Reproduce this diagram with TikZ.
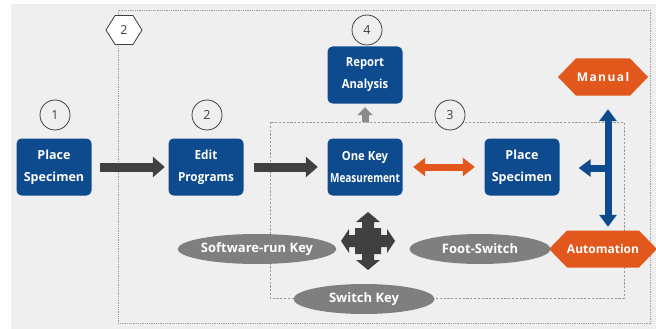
\documentclass[tikz,border=0pt]{standalone}
\usepackage{fontspec}
\setmainfont{Open Sans}
\usetikzlibrary{shapes.geometric,shapes.symbols,arrows.meta}
\definecolor{bg}{HTML}{EFEFEF}
\definecolor{nblue}{HTML}{0D4A8E}
\definecolor{norange}{HTML}{E2581C}
\definecolor{ngray}{HTML}{7F7F7F}
\definecolor{ndark}{HTML}{404040}
\definecolor{nlight}{HTML}{8A8A8A}
\definecolor{nline}{HTML}{9A9A9A}
\begin{document}
\begin{tikzpicture}[x=1pt,y=-1pt,
  stepbox/.style={rectangle, rounded corners=5pt, fill=nblue, text=white, minimum width=75pt, minimum height=57pt, inner sep=0pt, align=center, font=\bfseries\fontsize{12.5}{22}\selectfont},
  keyell/.style={ellipse, fill=ngray, text=white, minimum width=141pt, minimum height=30pt, inner sep=0pt, font=\bfseries\fontsize{13}{15}\selectfont},
  modehex/.style={signal, signal to=east and west, signal pointer angle=92, fill=norange, text=white, minimum width=90pt, minimum height=37pt, inner sep=0pt, font=\bfseries\fontsize{12}{14}\selectfont},
  numcirc/.style={circle, draw=ndark, line width=0.8pt, fill=bg, minimum size=30pt, inner sep=0pt, text=ndark, font=\fontsize{12.5}{14}\selectfont},
  numhex/.style={signal, signal to=east and west, signal pointer angle=116, draw=ndark, line width=0.8pt, fill=white, minimum width=36pt, minimum height=29pt, inner sep=0pt, text=ndark, font=\fontsize{12.5}{14}\selectfont},
  darkarr/.style={draw=ndark, line width=9pt, -{Triangle[length=12pt,width=20pt]}},
  greyarr/.style={draw=nlight, line width=7pt, -{Triangle[length=8pt,width=15pt]}},
  orangearr/.style={draw=norange, line width=7pt, {Triangle[length=12pt,width=18pt]}-{Triangle[length=12pt,width=18pt]}},
  bluearr/.style={draw=nblue, line width=7pt, {Triangle[length=12pt,width=17pt]}-{Triangle[length=12pt,width=17pt]}},
  bluebranch/.style={draw=nblue, line width=7pt, -{Triangle[length=12pt,width=17pt]}},
  outerbox/.style={draw=nline, line width=0.9pt, dash pattern=on 0.9pt off 0.9pt},
  innerbox/.style={draw=nline, line width=0.9pt, dash pattern=on 2.2pt off 1.6pt}
]
\useasboundingbox (0,0) rectangle (656,329);
\fill[white] (0,0) rectangle (656,329);
\fill[bg] (11,4) rectangle (656,329);

% group frames
\draw[outerbox] (118,10) rectangle (650,323);
\draw[innerbox] (270,122) rectangle (624,298);

% step numbers
\node[numcirc] (c1) at (55,115) {1};
\node[numcirc] (c2) at (207,115) {2};
\node[numcirc] (c3) at (450,115) {3};
\node[numcirc] (c4) at (367,30) {4};
\node[numhex] (h2) at (124,30) {2};

% step boxes
\node[stepbox] (ps1) at (54,167) {Place\\Specimen};
\node[stepbox] (edit) at (206,167) {\scalebox{0.94}[1]{Edit}\\\scalebox{0.94}[1]{Programs}};
\node[stepbox] (onekey) at (365,167) {\scalebox{0.9}[1]{One Key}\\\scalebox{0.8}[1]{Measurement}};
\node[stepbox] (ps2) at (522,167) {Place\\Specimen};
\node[stepbox] (report) at (365,75) {\scalebox{0.9}[1]{Report}\\\scalebox{0.9}[1]{Analysis}};

% modes
\node[modehex] (manual) at (603,77) {\addfontfeature{LetterSpace=12}Manual};
\node[modehex] (auto) at (603,249) {Automation};

% keys
\node[keyell] (sw) at (257,249) {Software-run Key};
\node[keyell] (foot) at (480,249) {Foot-Switch};
\node[keyell] (swk) at (364,299) {Switch Key};

% connectors
\draw[darkarr, shorten <=8.5pt, shorten >=3.5pt] (ps1) -- (edit);
\draw[darkarr, shorten <=10.5pt, shorten >=9.5pt] (edit) -- (onekey);
\draw[greyarr, shorten <=16.5pt, shorten >=3.5pt] (onekey) -- (report);
\draw[orangearr, shorten <=10.5pt, shorten >=9.5pt] (onekey) -- (ps2);
\draw[bluearr, shorten <=13.5pt, shorten >=3.5pt] ([xshift=5pt]manual.south) -- ([xshift=5pt]auto.north);
\coordinate (bj) at (608,168);
\draw[bluebranch, shorten >=19pt] (bj) -- (bj -| ps2.east);

% four-way arrow
\fill[ndark, shift={(368,241)}]
  (0,29) -- (12,19) -- (6,19) -- (6,13) -- (13,13) -- (13,6) -- (19,6) -- (19,12) -- (27,0)
  -- (19,-12) -- (19,-6) -- (13,-6) -- (13,-13) -- (6,-13) -- (6,-19) -- (12,-19) -- (0,-29)
  -- (-12,-19) -- (-6,-19) -- (-6,-13) -- (-13,-13) -- (-13,-6) -- (-19,-6) -- (-19,-12) -- (-27,0)
  -- (-19,12) -- (-19,6) -- (-13,6) -- (-13,13) -- (-6,13) -- (-6,19) -- (-12,19) -- cycle;
\end{tikzpicture}
\end{document}
